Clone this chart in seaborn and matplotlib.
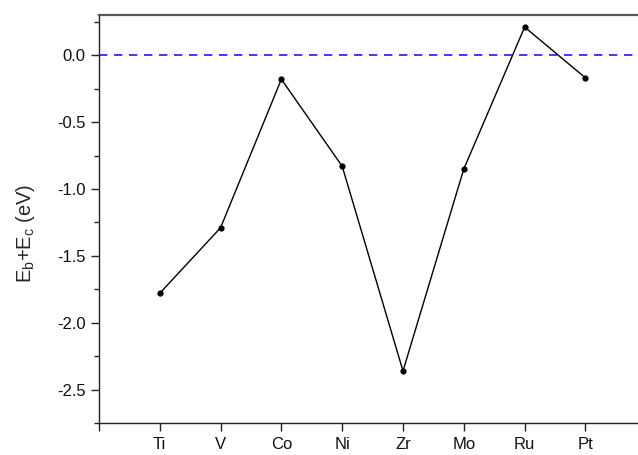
import matplotlib
matplotlib.use("Agg")
import matplotlib.pyplot as plt
from matplotlib.ticker import MultipleLocator, FixedLocator, FormatStrFormatter
import numpy as np
import pandas as pd
import seaborn as sns

# Dopant elements and their combined energy E_b + E_c (eV)
elements = ["Ti", "V", "Co", "Ni", "Zr", "Mo", "Ru", "Pt"]
energies = [-1.78, -1.29, -0.18, -0.83, -2.36, -0.85, 0.21, -0.17]

df = pd.DataFrame({
    "pos": np.arange(1, len(elements) + 1),
    "energy": energies,
})

sns.set_style("ticks")
plt.rcParams["font.family"] = ["Liberation Sans", "DejaVu Sans"]
plt.rcParams["mathtext.fontset"] = "custom"
plt.rcParams["mathtext.rm"] = "Liberation Sans"
plt.rcParams["mathtext.it"] = "Liberation Sans:italic"

fig = plt.figure(figsize=(6.38, 4.55), dpi=100)
ax = fig.add_axes([0.155, 0.070, 0.858, 0.897])

ax.axhline(0.0, color="#1a1aff", lw=1.2, ls=(0, (5, 4)), zorder=1)
sns.lineplot(data=df, x="pos", y="energy", ax=ax, color="black", lw=1.0,
             marker="o", markersize=4.5, markeredgewidth=0, zorder=3)

ax.set_xlim(0, 9)
ax.set_ylim(-2.75, 0.3)
ax.xaxis.set_major_locator(FixedLocator(np.arange(0, len(elements) + 1)))
ax.set_xticklabels([""] + elements)
ax.yaxis.set_major_locator(MultipleLocator(0.5))
ax.yaxis.set_minor_locator(MultipleLocator(0.25))
ax.yaxis.set_major_formatter(FormatStrFormatter("%.1f"))

ax.set_xlabel("")
ax.set_ylabel(r"E$_\mathrm{b}$+E$_\mathrm{c}$ (eV)", fontsize=14.5)
ax.yaxis.set_label_coords(-0.1125, 0.465)

for side in ["left", "bottom", "top", "right"]:
    ax.spines[side].set_visible(True)
    ax.spines[side].set_color("#222222")
    ax.spines[side].set_linewidth(1.0)
ax.spines["top"].set_linewidth(1.6)
ax.spines["top"].set_color("#555555")

ax.tick_params(axis="both", which="major", direction="out", length=6,
               width=1.0, color="#222222", labelsize=12, labelcolor="#111111")
ax.tick_params(axis="y", which="minor", direction="out", length=3.5,
               width=1.0, color="#222222")
ax.tick_params(axis="x", pad=4)

fig.savefig("out.png", dpi=100)
